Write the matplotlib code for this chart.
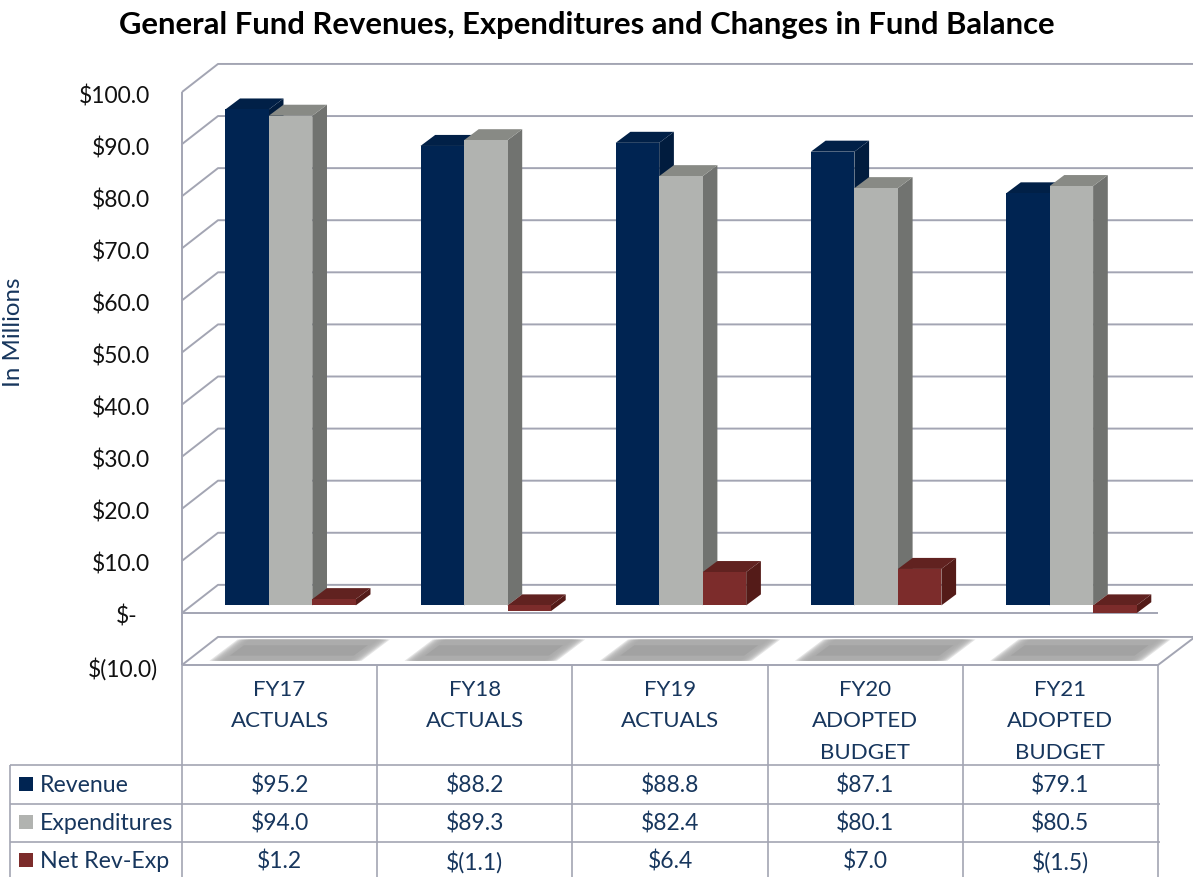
import matplotlib
matplotlib.use("Agg")
import matplotlib.pyplot as plt
from matplotlib.patches import Polygon

W, H = 1193, 878
plt.rcParams['font.family'] = ['Lato', 'DejaVu Sans']

categories = [["FY17", "ACTUALS"], ["FY18", "ACTUALS"], ["FY19", "ACTUALS"],
              ["FY20", "ADOPTED", "BUDGET"], ["FY21", "ADOPTED", "BUDGET"]]
series_names = ["Revenue", "Expenditures", "Net Rev-Exp"]
revenue = [95.2, 88.2, 88.8, 87.1, 79.1]
expenditures = [94.0, 89.3, 82.4, 80.1, 80.5]
net = [1.2, -1.1, 6.4, 7.0, -1.5]
revenue_txt = ["$95.2", "$88.2", "$88.8", "$87.1", "$79.1"]
expenditures_txt = ["$94.0", "$89.3", "$82.4", "$80.1", "$80.5"]
net_txt = ["$1.2", "$(1.1)", "$6.4", "$7.0", "$(1.5)"]
tick_vals = [100, 90, 80, 70, 60, 50, 40, 30, 20, 10, 0, -10]
tick_txt = ["$100.0", "$90.0", "$80.0", "$70.0", "$60.0", "$50.0", "$40.0",
            "$30.0", "$20.0", "$10.0", "$-", "$(10.0)"]

# colours: front, top, side
cols = [("#002452", "#012047", "#011c3e"),
        ("#b1b3b0", "#888a85", "#717370"),
        ("#7c2c2b", "#612220", "#541b18")]
grid = "#a3a5b3"
navy = "#17365d"

fig = plt.figure(figsize=(W / 100, H / 100), dpi=100, facecolor="white")

# chart axes: x in categories, y in $ millions
left, right, top, bot = 182, 1158, 93, 666
ax = fig.add_axes([left / W, 1 - bot / H, (right - left) / W, (bot - top) / H])
ax.set_xlim(0, 5)
ax.set_ylim(-10, 100)
ax.axis("off")

wall_dx = 36 / 195.2
wall_dy = 28 / 5.2
bar_w = 43.5 / 195.2
bar_start = 43.3 / 195.2
bar_dx = 14.7 / 195.2
bar_dy = 11 / 5.2
base = 7.5 / 5.2
x_end = (W + 2 - left) / 195.2


def line(a, xs, ys, lw=1.4, c=grid, z=1):
    a.plot(xs, ys, color=c, lw=lw, clip_on=False, zorder=z, solid_capstyle="butt")


for v in tick_vals:
    if v == -10:
        continue
    line(ax, [0, wall_dx, x_end], [v, v + wall_dy, v + wall_dy])
line(ax, [0, 0], [-10, 100])
line(ax, [0, wall_dx, x_end], [-10, -10 + wall_dy, -10 + wall_dy])
line(ax, [0, 5], [0, 0], z=2)
line(ax, [0, 5, x_end], [-10, -10, -10 + wall_dy], z=2)

# floor shadows, stacked so the ends fade out
for i in range(5):
    s = 0.145
    for k in range(8):
        grow = k * 0.009
        x0 = i + 0.14 + grow
        x1 = i + 0.92 - grow
        y0, y1 = -9.2, -5.1
        ax.add_patch(Polygon([(x0, y0), (x1, y0), (x1 + s, y1), (x0 + s, y1)],
                             fc="#a8a8a8", ec="none", alpha=0.3, clip_on=False, zorder=3))
    x0 = i + 0.215
    x1 = i + 0.85
    y0, y1 = -8.2, -6.2
    s2 = s * 0.5
    ax.add_patch(Polygon([(x0 + 0.03, y0), (x1 + 0.03, y0), (x1 + 0.03 + s2, y1), (x0 + 0.03 + s2, y1)],
                         fc="#9c9c9c", ec="none", alpha=0.6, clip_on=False, zorder=3))

# bars, each drawn with front, top and side faces
for i in range(5):
    for j, vals in enumerate([revenue, expenditures, net]):
        v = vals[i]
        x0 = i + bar_start + j * bar_w
        x1 = x0 + bar_w
        y_hi = base + max(v, 0)
        y_lo = base + min(v, 0)
        front, topc, side = cols[j]
        ax.add_patch(Polygon([(x1, y_lo), (x1 + bar_dx, y_lo + bar_dy),
                              (x1 + bar_dx, y_hi + bar_dy), (x1, y_hi)],
                             fc=side, ec="none", clip_on=False, zorder=5))
        ax.add_patch(Polygon([(x0, y_hi), (x1, y_hi), (x1 + bar_dx, y_hi + bar_dy),
                              (x0 + bar_dx, y_hi + bar_dy)],
                             fc=topc, ec="none", clip_on=False, zorder=5))
        ax.bar(x0, y_hi - y_lo, bottom=y_lo, width=bar_w, align="edge", color=front,
               clip_on=False, zorder=5)

# y labels
for v, t in zip(tick_vals, tick_txt):
    dx = -32
    if v == 0:
        dx = -45
    if v == -10:
        dx = -24
    ax.annotate(t, xy=(0, v), xycoords=("axes fraction", "data"), xytext=(dx, -1),
                textcoords="offset pixels", ha="right", va="center_baseline",
                fontsize=16.5, color="#111111")

# overlay in pixel coordinates for title and table
tb = fig.add_axes([0, 0, 1, 1], facecolor="none")
tb.set_xlim(0, W)
tb.set_ylim(H, 0)
tb.axis("off")

tb.text(587, 25, "General Fund Revenues, Expenditures and Changes in Fund Balance",
        ha="center", va="center", fontsize=22.3, fontweight="bold", color="black")
tb.text(14, 332, "In Millions", rotation=90, ha="center", va="center", fontsize=17.3, color=navy)

col_x = [182 + 195.2 * i for i in range(6)]
for x in col_x:
    line(tb, [x, x], [666, H], lw=1.2)
for y in [766, 805, 843]:
    line(tb, [10, 1160], [y, y], lw=1.2)
line(tb, [10, 10], [766, H], lw=1.2)

for i, lines in enumerate(categories):
    cx = col_x[i] + 97.6
    for k, t in enumerate(lines):
        tb.text(cx, 690 + k * 31.5, t, ha="center", va="center", fontsize=16, color=navy)

row_y = [786, 824, 862]
for r, (name, txt) in enumerate(zip(series_names, [revenue_txt, expenditures_txt, net_txt])):
    y = row_y[r]
    tb.add_patch(Polygon([(18.5, y - 8), (32.5, y - 8), (32.5, y + 6), (18.5, y + 6)],
                         fc=cols[r][0], ec="none"))
    tb.text(40, y, name, ha="left", va="center", fontsize=16.7, color=navy)
    for i, t in enumerate(txt):
        tb.text(col_x[i] + 97.6, y, t, ha="center", va="center", fontsize=16.5, color=navy)

fig.savefig("out.png", dpi=100)
